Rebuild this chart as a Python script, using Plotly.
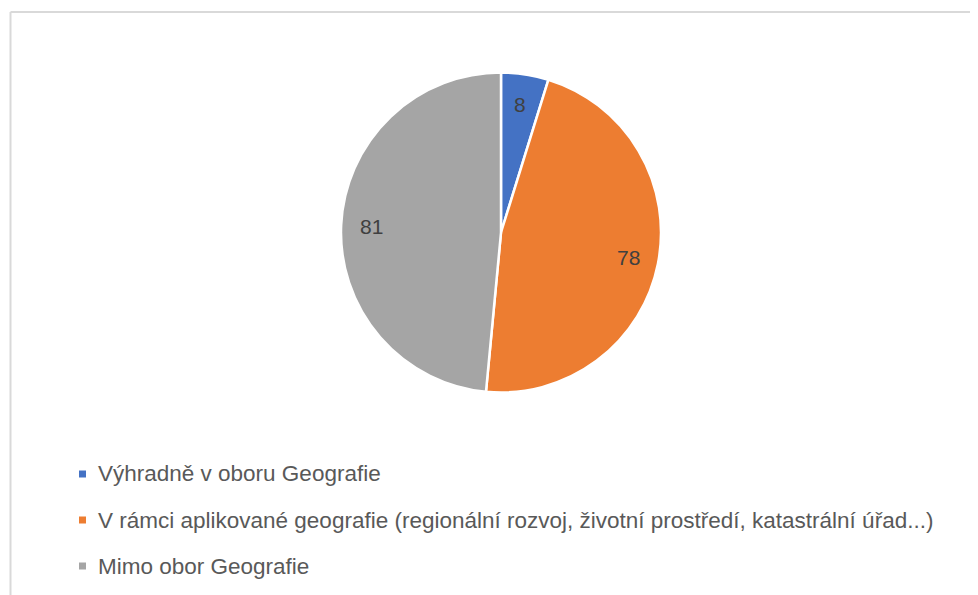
import math
import plotly.graph_objects as go

labels = [
    "Výhradně v oboru Geografie",
    "V rámci aplikované geografie (regionální rozvoj, životní prostředí, katastrální úřad...)",
    "Mimo obor Geografie",
]
values = [8, 78, 81]
colors = ["#4472C4", "#ED7D31", "#A5A5A5"]

# page body has an 8px margin: figure spans 970x587 starting at (8, 8)
OFF = 8
W, H = 978 - OFF, 595 - OFF
cx, cy, R = 501 - OFF, 232.5 - OFF, 160


def px(x):
    return x / W


def py(y):
    return 1 - y / H


fig = go.Figure()
fig.add_trace(go.Pie(
    labels=labels,
    values=values,
    sort=False,
    direction="clockwise",
    rotation=0,
    marker=dict(colors=colors, line=dict(color="white", width=2.5)),
    textinfo="none",
    hoverinfo="label+value",
    showlegend=False,
    domain=dict(x=[px(cx - R), px(cx + R)], y=[py(cy + R), py(cy - R)]),
))

shapes = [
    dict(type="line", xref="paper", yref="paper", x0=px(10.5 - OFF), x1=1.0, y0=py(12 - OFF), y1=py(12 - OFF),
         line=dict(color="#D9D9D9", width=2)),
    dict(type="line", xref="paper", yref="paper", x0=px(10.5 - OFF), x1=px(10.5 - OFF), y0=0, y1=py(12 - OFF),
         line=dict(color="#D9D9D9", width=2)),
]
annotations = []

# data labels placed along each slice's mid-angle
total = sum(values)
cum = 0
for v in values:
    mid = (cum + v / 2) / total * 2 * math.pi
    cum += v
    r = 0.81 * R
    lx = cx + r * math.sin(mid)
    ly = cy - r * math.cos(mid)
    annotations.append(dict(x=px(lx), y=py(ly), xref="paper", yref="paper", text=str(v),
                            showarrow=False, xanchor="center", yanchor="middle",
                            font=dict(family="Liberation Sans", size=21, color="#404040")))

row_y = [474 - OFF, 520 - OFF, 566 - OFF]
for lab, col, yy in zip(labels, colors, row_y):
    shapes.append(dict(type="rect", xref="paper", yref="paper",
                       x0=px(79 - OFF), x1=px(86 - OFF), y0=py(yy + 3.5), y1=py(yy - 3.5),
                       fillcolor=col, line=dict(width=0)))
    annotations.append(dict(x=px(96 - OFF), y=py(yy), xref="paper", yref="paper",
                            text=lab, showarrow=False, xanchor="left", yanchor="middle",
                            font=dict(family="Liberation Sans", size=22.5, color="#595959")))

fig.update_layout(
    width=W, height=H,
    margin=dict(l=0, r=0, t=0, b=0),
    paper_bgcolor="white",
    plot_bgcolor="white",
    shapes=shapes,
    annotations=annotations,
)

fig.write_html("out.html")
